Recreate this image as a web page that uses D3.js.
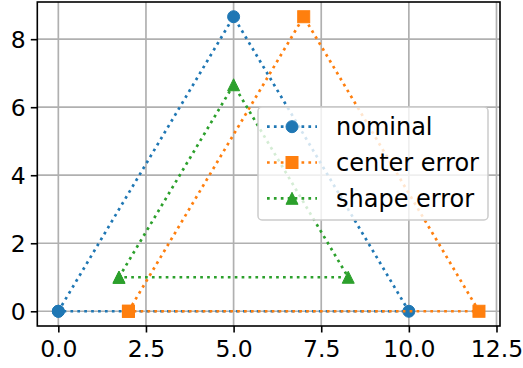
<!DOCTYPE html>
<html>
<head>
<meta charset="utf-8">
<script src="https://cdn.jsdelivr.net/npm/d3@7"></script>
<style>
  html, body { margin: 0; padding: 0; background: #fff; }
  svg { display: block; }
  text { font-family: "DejaVu Sans", sans-serif; fill: #000; }
</style>
</head>
<body>
<div class="chart"></div>
<script>
// series data
const seriesNames = ["nominal", "center error", "shape error"];
const seriesColors = ["#1f77b4", "#ff7f0e", "#2ca02c"];
const seriesMarkers = ["circle", "square", "triangle"];

const nominalX = [0, 5, 10, 0];
const nominalY = [0, 8.66, 0, 0];
const centerX = [2, 7, 12, 2];
const centerY = [0, 8.66, 0, 0];
const shapeX = [1.73, 5, 8.27, 1.73];
const shapeY = [1, 6.66, 1, 1];

const xTicks = [0, 2.5, 5, 7.5, 10, 12.5];
const yTicks = [0, 2, 4, 6, 8];

const series = [
    { name: seriesNames[0], color: seriesColors[0], marker: seriesMarkers[0], xs: nominalX, ys: nominalY },
    { name: seriesNames[1], color: seriesColors[1], marker: seriesMarkers[1], xs: centerX, ys: centerY },
    { name: seriesNames[2], color: seriesColors[2], marker: seriesMarkers[2], xs: shapeX, ys: shapeY }
];

const width = 523;
const height = 368;
const plotLeft = 37.3, plotRight = 500, plotTop = 2, plotBottom = 326;
const fontSize = 23.5;
const legendFontSize = 24;
const lw = 2.7;
const dash = "2.7 4.2";

const x = d3.scaleLinear().domain([-0.6, 12.6]).range([plotLeft, plotRight]);
const y = d3.scaleLinear().domain([-0.433, 9.093]).range([plotBottom, plotTop]);

const svg = d3.select(".chart")
    .append("svg")
    .attr("width", width)
    .attr("height", height);

// grid
const grid = svg.append("g");
grid.selectAll("line.gx")
    .data(xTicks)
    .join("line")
    .attr("class", "gx")
    .attr("x1", d => x(d)).attr("x2", d => x(d))
    .attr("y1", plotTop).attr("y2", plotBottom)
    .style("stroke", "#b0b0b0")
    .style("stroke-width", 1.7);
grid.selectAll("line.gy")
    .data(yTicks)
    .join("line")
    .attr("class", "gy")
    .attr("x1", plotLeft).attr("x2", plotRight)
    .attr("y1", d => y(d)).attr("y2", d => y(d))
    .style("stroke", "#b0b0b0")
    .style("stroke-width", 1.7);

function drawMarker(sel, type, size) {
    const h = size / 2;
    if (type === "circle") {
        sel.append("circle").attr("r", h);
    } else if (type === "square") {
        sel.append("rect").attr("x", -h).attr("y", -h).attr("width", size).attr("height", size);
    } else {
        sel.append("path").attr("d", `M0,${-h}L${h},${h}L${-h},${h}Z`);
    }
}

const line = d3.line().x(d => x(d[0])).y(d => y(d[1]));

const plot = svg.append("g");
series.forEach(s => {
    const pts = s.xs.map((v, i) => [v, s.ys[i]]);
    plot.append("path")
        .attr("d", line(pts))
        .style("fill", "none")
        .style("stroke", s.color)
        .style("stroke-width", lw)
        .style("stroke-dasharray", dash);
    pts.forEach(p => {
        const g = plot.append("g")
            .attr("transform", `translate(${x(p[0])},${y(p[1])})`)
            .style("fill", s.color)
            .style("stroke", s.color)
            .style("stroke-width", 1);
        drawMarker(g, s.marker, 12);
    });
});

// spines
svg.append("rect")
    .attr("x", plotLeft).attr("y", plotTop)
    .attr("width", plotRight - plotLeft).attr("height", plotBottom - plotTop)
    .style("fill", "none")
    .style("stroke", "#000")
    .style("stroke-width", 1.6);

// axes
const xAxis = svg.append("g")
    .attr("transform", `translate(0,${plotBottom})`)
    .call(d3.axisBottom(x).tickValues(xTicks).tickFormat(d3.format(".1f")).tickSize(6.5).tickPadding(8));
const yAxis = svg.append("g")
    .attr("transform", `translate(${plotLeft},0)`)
    .call(d3.axisLeft(y).tickValues(yTicks).tickFormat(d3.format("d")).tickSize(6.5).tickPadding(5));

[xAxis, yAxis].forEach(a => {
    a.select(".domain").remove();
    a.selectAll(".tick line").style("stroke", "#000").style("stroke-width", 1.6);
    a.selectAll(".tick text")
        .style("font-family", "DejaVu Sans")
        .style("font-size", fontSize + "px")
        .style("fill", "#000");
});
yAxis.selectAll(".tick text").attr("dy", "0.36em");

// legend
const legend = svg.append("g");
legend.append("rect")
    .attr("x", 258).attr("y", 107)
    .attr("width", 230).attr("height", 113)
    .attr("rx", 4)
    .style("fill", "#fff")
    .style("fill-opacity", 0.8)
    .style("stroke", "#cccccc")
    .style("stroke-width", 1.5);

const rowY = d3.scalePoint().domain(seriesNames).range([126.7, 198.3]);

series.forEach(s => {
    const ry = rowY(s.name);
    legend.append("line")
        .attr("x1", 267).attr("x2", 317)
        .attr("y1", ry).attr("y2", ry)
        .style("stroke", s.color)
        .style("stroke-width", lw)
        .style("stroke-dasharray", dash);
    const g = legend.append("g")
        .attr("transform", `translate(292,${ry})`)
        .style("fill", s.color)
        .style("stroke", s.color)
        .style("stroke-width", 1);
    drawMarker(g, s.marker, 12);
    legend.append("text")
        .attr("x", 336)
        .attr("y", ry)
        .attr("dy", "0.36em")
        .style("font-size", legendFontSize + "px")
        .text(s.name);
});
</script>
</body>
</html>
